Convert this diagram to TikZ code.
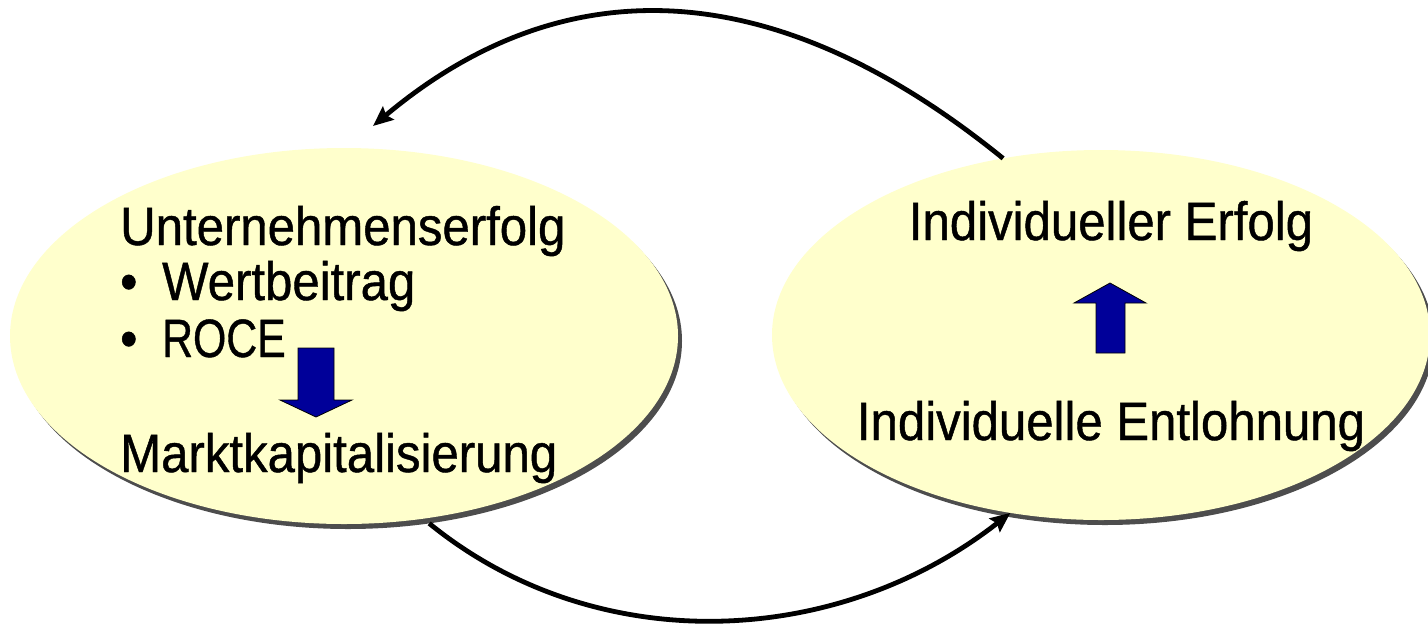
\documentclass[tikz,border=0pt]{standalone}
\usepackage{fontspec}
\setmainfont{Liberation Sans}[FakeStretch=0.91, FakeBold=0.8]
\usetikzlibrary{shapes.geometric,shadows,arrows.meta}
\definecolor{bubblefill}{HTML}{FFFFCC}
\definecolor{bubbleshade}{HTML}{4D4D4D}
\definecolor{flowblue}{HTML}{000099}
\tikzset{
  bubble/.style={ellipse, fill=bubblefill, inner sep=0pt, outer sep=0pt,
    drop shadow={shadow xshift=4pt, shadow yshift=-5pt, fill=bubbleshade, opacity=1}},
  txt/.style={anchor=base west, inner sep=0pt, font=\fontsize{54}{60}\selectfont},
  ctxt/.style={anchor=base, inner sep=0pt, font=\fontsize{54}{60}\selectfont},
  loopline/.style={line width=4.8pt, -{Stealth[length=20pt,width=17pt,inset=3pt]}},
  blockarrow/.style={fill=flowblue, draw=black, line width=0.8pt, line join=miter},
}
\begin{document}
\begin{tikzpicture}[x=1pt, y=-1pt]
\useasboundingbox (0,0) rectangle (1428,625);

% the two bubbles
\node[bubble, minimum width=668, minimum height=376] (L) at (344,336) {};
\node[bubble, minimum width=658, minimum height=370] (R) at (1101,335) {};

% left bubble: company success
\node[txt] (uerf) at (120,245) {Unternehmenserfolg};
\node[txt] (wert) at (120,300) {\makebox[42pt][l]{•}Wertbeitrag};
\node[txt] (roce) at (120,357) {\makebox[42pt][l]{•}\scalebox{0.87}[1]{ROCE}};
\node[txt] (mkap) at (120,472) {Marktkapitalisierung};
\draw[blockarrow] (298,348) -- (334,348) -- (334,400) -- (352,400)
  -- (316,417) -- (280,400) -- (298,400) -- cycle;

% right bubble: individual success
\node[ctxt] (ierf) at (1111,240) {Individueller Erfolg};
\node[ctxt] (ient) at (1111,440) {Individuelle Entlohnung};
\draw[blockarrow] (1096,353) -- (1125,353) -- (1125,303) -- (1146,303)
  -- (1110,283) -- (1074,303) -- (1096,303) -- cycle;

% feedback loop between the bubbles
\coordinate (topend) at (373,126);
\draw[loopline] (R.119.1) .. controls (770,-31) and (560,-31) .. (topend);
\draw[loopline] ([shift={(4,5)}]L.-66.3) .. controls (597,660) and (838,648) .. (R.-117.8);
\end{tikzpicture}
\end{document}
